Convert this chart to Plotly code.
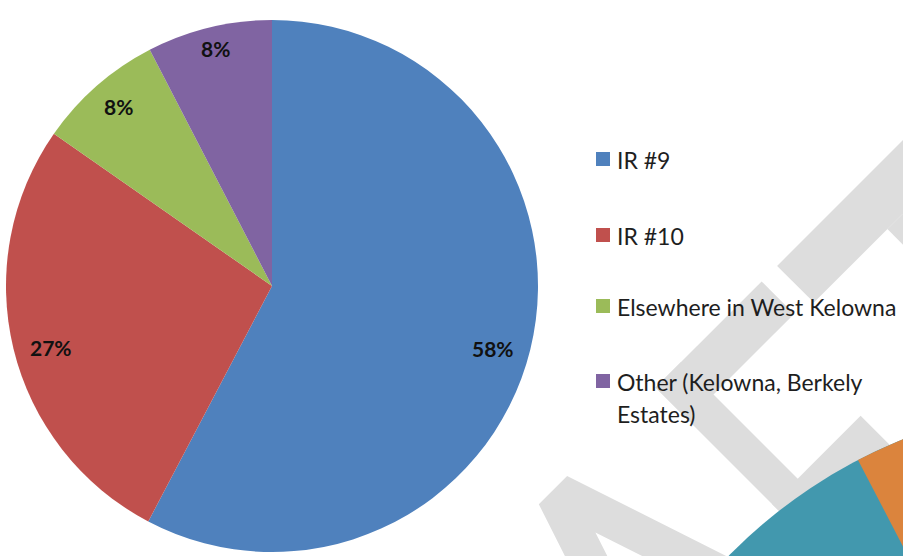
import math
import plotly.graph_objects as go

# ---------------- data ----------------
categories = ["IR #9", "IR #10", "Elsewhere in West Kelowna", "Other (Kelowna, Berkely Estates)"]
legend_lines = [["IR #9"], ["IR #10"], ["Elsewhere in West Kelowna"], ["Other (Kelowna, Berkely", "Estates)"]]
values = [57.7, 27.0, 7.7, 7.6]
colors = ["#4f81bd", "#c0504d", "#9bbb59", "#8064a2"]

# ---------------- geometry (window pixels) ----------------
W, H = 903, 556
CX, CY, R = 272, 286, 266
S2 = math.sqrt(2)

fig = go.Figure()

# hidden pixel-space axes for overlay shapes / annotations
fig.add_trace(go.Scatter(x=[], y=[], showlegend=False, hoverinfo="skip"))

fig.add_trace(go.Pie(
    labels=categories, values=values, sort=False, direction="clockwise", rotation=0,
    marker=dict(colors=colors, line=dict(width=0)),
    textinfo="none", hoverinfo="label+percent", showlegend=False,
    domain=dict(x=[(CX - R) / W, (CX + R) / W],
                y=[1 - (CY + R) / H, 1 - (CY - R) / H]),
))

# ---------------- data labels (inside end) ----------------
total = sum(values)
annotations = []
cum = 0.0
for v in values:
    frac = v / total
    mid = (cum + frac / 2) * 2 * math.pi
    cum += frac
    dx, dy = math.sin(mid), -math.cos(mid)
    txt = f"{round(100 * frac)}%"
    w = 14 * len(txt)
    h = 19
    dist = R - 16 - (abs(dx) * w / 2 + abs(dy) * h / 2)
    annotations.append(dict(
        x=CX + dx * dist, y=CY + dy * dist * 1.05 + 5, xref="x", yref="y",
        text=f"<b>{txt}</b>", showarrow=False, xanchor="center", yanchor="middle",
        font=dict(family="Lato", size=21, color="#111111"),
    ))

# ---------------- watermark ("DRAFT", rotated) ----------------
def uv(u, v):
    return 903 + (u + v) / S2, 140 + (v - u) / S2

def poly_path(pts):
    xy = [uv(u, v) for u, v in pts]
    return "M " + " L ".join(f"{x:.1f},{y:.1f}" for x, y in xy) + " Z"

k = 0.33
sw = 52
wm_polys = [
    [(-178, 0), (80, 0), (80, sw), (-178, sw)],                # T bar
    [(-74, sw), (-28, sw), (-28, 340), (-74, 340)],            # T stem
    [(-350, 0), (-314, 0), (-314, 340), (-350, 340)],          # F stem
    [(-350, 0), (-200, 0), (-200, 46), (-350, 46)],            # F top
    [(-350, 165), (-225, 165), (-225, 207), (-350, 207)],      # F mid
    [(-515, 0), (-475, 0), (-475 + k * 330, 330), (-515 + k * 330, 330),
     (-495, 60), (-475 - k * 330, 330), (-515 - k * 330, 330)],  # A
]
shapes = []
for p in wm_polys:
    shapes.append(dict(type="path", xref="x", yref="y", path=poly_path(p),
                       fillcolor="#dddddd", line=dict(width=0), layer="above"))

# ---------------- fragment of neighbouring chart ----------------
PCX, PCY, PR = 1095, 915, 513
shapes.append(dict(type="circle", xref="x", yref="y", x0=PCX - PR, x1=PCX + PR,
                   y0=PCY - PR, y1=PCY + PR, fillcolor="#4298ae", line=dict(width=0)))
a0 = math.atan2(458 - PCY, 857 - PCX)
pts = [(PCX, PCY)]
n = 60
for i in range(n + 1):
    a = a0 + (0 - a0) * i / n
    pts.append((PCX + PR * math.cos(a), PCY + PR * math.sin(a)))
shapes.append(dict(type="path", xref="x", yref="y",
                   path="M " + " L ".join(f"{x:.1f},{y:.1f}" for x, y in pts) + " Z",
                   fillcolor="#db843d", line=dict(width=0)))

# ---------------- legend ----------------
leg_y = [159, 235, 306, 381]
for i, lines in enumerate(legend_lines):
    y = leg_y[i]
    shapes.append(dict(type="rect", xref="x", yref="y", x0=596, x1=610, y0=y - 7, y1=y + 7,
                       fillcolor=colors[i], line=dict(width=0)))
    for j, line in enumerate(lines):
        annotations.append(dict(
            x=615, y=y + 32 * j + 1, xref="x", yref="y", text=line, showarrow=False,
            xanchor="left", yanchor="middle",
            font=dict(family="Lato", size=23, color="#1e1e1e"),
        ))

fig.update_layout(
    width=W, height=H, margin=dict(l=0, r=0, t=0, b=0),
    paper_bgcolor="white", plot_bgcolor="white",
    xaxis=dict(range=[0, W], visible=False, fixedrange=True),
    yaxis=dict(range=[H, 0], visible=False, fixedrange=True),
    shapes=shapes, annotations=annotations, showlegend=False,
)

fig.write_html(
    "out.html",
    config={"displayModeBar": False},
    post_script="document.body.style.margin='0px';document.body.style.overflow='hidden';",
)
